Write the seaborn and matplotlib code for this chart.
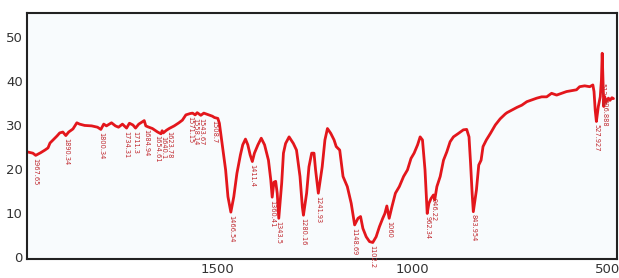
import numpy as np
import pandas as pd
import matplotlib
matplotlib.use("Agg")
import matplotlib.pyplot as plt
import seaborn as sns

# IR spectrum: wavenumber (cm-1) and transmittance (%)
wavenumber = [
    1990, 1975, 1967.65, 1955, 1944, 1936, 1931, 1923, 1913, 1906, 1898, 1890.34,
    1883, 1872, 1862, 1855, 1842, 1824, 1809, 1800.34, 1793, 1786, 1773, 1763,
    1755, 1745, 1734.31, 1727, 1718, 1711.3, 1703, 1689, 1684.94, 1680, 1668,
    1654.61, 1646, 1643, 1640.1, 1632, 1625, 1612, 1600, 1591, 1582, 1571.15,
    1565, 1558.14, 1553, 1543.67, 1536, 1523, 1514, 1508.7, 1500, 1496, 1489,
    1480, 1474, 1466.54, 1459, 1451, 1442, 1436, 1429, 1423, 1417, 1411.4, 1406,
    1397, 1388.5, 1380, 1370, 1364, 1360.41, 1356, 1351.5, 1347.5, 1343.5, 1336,
    1331.5, 1326, 1317, 1306, 1298, 1289, 1283, 1280.16, 1272, 1266, 1259, 1253,
    1249, 1241.93, 1232, 1225, 1218.5, 1210, 1201.5, 1196, 1187, 1178.5, 1167.5,
    1157.5, 1148.69, 1140, 1133.5, 1127.5, 1119, 1110.5, 1102.2, 1093.5, 1085,
    1076.5, 1071, 1066, 1060, 1053, 1044, 1034, 1023, 1013, 1004, 996, 987,
    980.5, 974.5, 968, 962.34, 958, 952.5, 946.22, 943, 937.5, 929, 920.5, 912,
    903.5, 895, 882, 869.5, 861, 855, 851, 847, 843.954, 836, 830, 824, 819,
    810.5, 800, 787.5, 775, 762, 757.5, 745, 732, 719.5, 706.5, 694, 681, 668.5,
    655.5, 643, 630, 617.5, 604.5, 592, 579, 571, 558, 545, 537, 534, 531,
    527.927, 523, 518, 515, 513, 511, 509, 506.888, 503, 497, 493, 488, 484,
]
transmittance = [
    23.9, 23.6, 23.1, 23.7, 24.3, 24.8, 25.9, 26.6, 27.5, 28.2, 28.4, 27.6,
    28.4, 29.1, 30.5, 30.2, 29.9, 29.8, 29.5, 29.0, 30.2, 29.8, 30.5, 29.8,
    29.5, 30.2, 29.3, 30.4, 30.0, 29.3, 30.2, 31.0, 29.8, 29.6, 29.2,
    28.4, 28.0, 28.7, 28.2, 28.8, 29.2, 29.8, 30.5, 31.1, 32.3, 32.6,
    32.7, 32.3, 32.8, 32.2, 32.7, 32.3, 32.0, 31.7, 31.5, 30.4, 25.8,
    19.8, 13.7, 10.2, 13.7, 19.0, 23.2, 25.5, 26.8, 25.5, 23.2, 21.7, 23.6,
    25.5, 27.0, 25.5, 22.0, 17.5, 13.6, 17.0, 17.2, 14.5, 8.8, 16.8,
    23.6, 25.8, 27.3, 25.8, 24.3, 18.3, 11.4, 9.5, 14.5, 20.5, 23.6, 23.6,
    19.8, 14.5, 20.5, 26.6, 29.2, 28.1, 26.6, 25.1, 24.3, 18.3, 16.0,
    12.2, 7.3, 8.8, 9.2, 6.5, 4.6, 3.5, 3.3, 4.6, 6.9,
    8.8, 9.9, 11.6, 8.8, 11.4, 14.5, 16.0, 18.3, 19.8, 22.4, 23.6, 25.5,
    27.3, 26.6, 19.8, 9.9, 12.2, 13.3, 14.1, 13.0, 16.0, 18.3, 22.0, 23.9,
    26.2, 27.3, 28.1, 28.9, 29.0, 27.3, 21.3, 14.5, 10.3, 15.2, 20.9, 22.0, 25.1,
    26.6, 28.1, 30.0, 31.4, 32.5, 32.8, 33.4, 34.0, 34.5, 35.3, 35.7, 36.1, 36.4,
    36.4, 37.2, 36.8, 37.2, 37.6, 37.8, 38.0, 38.7, 38.9, 38.7, 39.1, 37.6, 33.4,
    30.8, 34.2, 36.4, 40.2, 46.3, 40.2, 34.2, 36.5, 35.3, 36.1, 35.6, 36.2, 36.0,
]
peak_labels = [
    "1967.65", "1890.34", "1800.34", "1734.31", "1711.3", "1684.94", "1654.61",
    "1640.1", "1623.78", "1571.15", "1558.14", "1543.67", "1508.7", "1466.54",
    "1411.4", "1360.41", "1343.5", "1280.16", "1241.93", "1148.69", "1102.2",
    "1060", "962.34", "946.22", "843.954", "527.927", "512.12", "506.888",
]
x_ticks = [1500, 1000, 500]
y_ticks = [0, 10, 20, 30, 40, 50]

df = pd.DataFrame({"wn": wavenumber, "T": transmittance})

sns.set_style("white")
# narrow font like the original, with a fallback
plt.rcParams["font.family"] = ["Liberation Sans Narrow", "DejaVu Sans"]

fig = plt.figure(figsize=(6.19, 2.78), dpi=100)
ax = fig.add_axes([27 / 619, 19 / 278, 590 / 619, 246 / 278])
ax.set_facecolor("#f8fbfd")

sns.lineplot(data=df, x="wn", y="T", ax=ax, color="#e3161c",
             linewidth=2.0, estimator=None, sort=False)

# peak labels, placed just below the curve
wn_arr = np.array(wavenumber)
t_arr = np.array(transmittance)
for lab in peak_labels:
    w = float(lab)
    near = np.abs(wn_arr - w) <= 2
    yv = t_arr[near].min() if near.any() else np.interp(w, wn_arr[::-1], t_arr[::-1])
    ax.annotate(lab, (w, yv), xytext=(0, -2), textcoords="offset points",
                rotation=270, ha="center", va="top", fontsize=4.8,
                color="#c0282e", annotation_clip=False)

ax.set_xlim(1990, 475)
ax.set_ylim(-0.45, 55.45)
ax.set_xticks(x_ticks)
ax.set_yticks(y_ticks)
ax.set_xlabel("")
ax.set_ylabel("")
ax.tick_params(length=0, labelsize=9.5, colors="#333333", pad=3)
for sp in ax.spines.values():
    sp.set_visible(True)
    sp.set_color("#222222")
    sp.set_linewidth(1.5)

fig.savefig("out.png", dpi=100)
